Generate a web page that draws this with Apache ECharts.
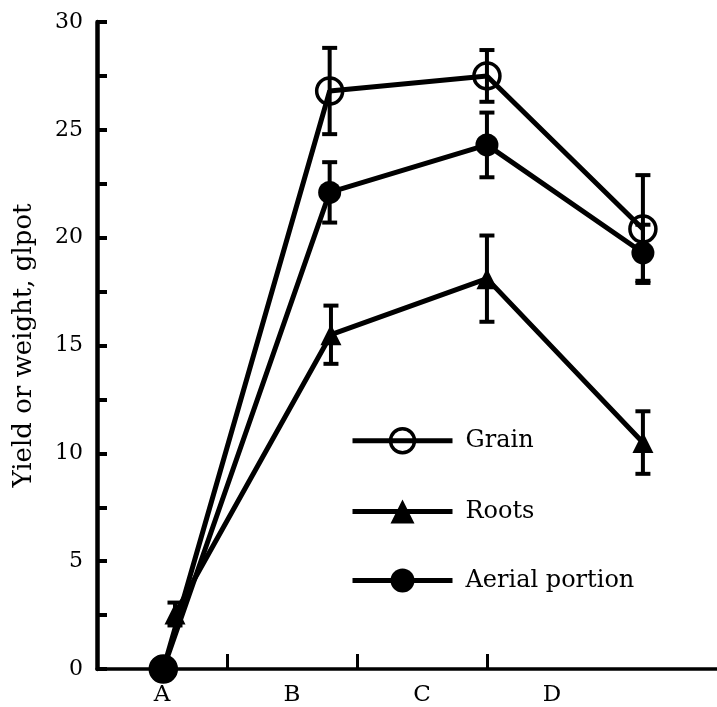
<!DOCTYPE html>
<html>
<head>
<meta charset="utf-8">
<script src="https://cdn.jsdelivr.net/npm/echarts@6/dist/echarts.min.js"></script>
<style>html,body{margin:0;padding:0;background:#fff;}#c{width:717px;height:707px;}</style>
</head>
<body>
<div id="c"></div>
<script>
// ---- data ----
const categories = ['A', 'B', 'C', 'D'];
const categoryLabelPos = [0.5, 1.5, 2.5, 3.5];
const xTickPos = [1, 2, 3];
const seriesNames = ['Grain', 'Roots', 'Aerial portion'];
const pointX = [0.51, 1.79, 3.0, 4.2];
const rootsX = [0.6, 1.8, 3.0, 4.2];
const grain = [0, 26.8, 27.5, 20.4];
const grainErr = [0, 2.0, 1.2, 2.5];
const roots = [2.55, 15.5, 18.1, 10.5];
const rootsErr = [0.53, 1.35, 2.0, 1.45];
const aerial = [0, 22.1, 24.3, 19.3];
const aerialErr = [0, 1.4, 1.5, 1.3];
const yTitle = 'Yield or weight, glpot';

const FONT = 'DejaVu Serif';
function pairs(xs, ys) { return xs.map((x, i) => [x, ys[i]]); }
function errData(xs, ys, es) {
  return xs.map((x, i) => [x, ys[i] - es[i], ys[i] + es[i]]).filter((d, i) => es[i] > 0);
}
function errRender(params, api) {
  const x = api.value(0), lo = api.value(1), hi = api.value(2);
  const t = api.coord([x, hi]), b = api.coord([x, lo]);
  const hw = 7.5;
  const st = { stroke: '#000', lineWidth: 4 };
  return { type: 'group', children: [
    { type: 'line', shape: { x1: t[0], y1: t[1], x2: b[0], y2: b[1] }, style: st },
    { type: 'line', shape: { x1: t[0] - hw, y1: t[1], x2: t[0] + hw, y2: t[1] }, style: st },
    { type: 'line', shape: { x1: b[0] - hw, y1: b[1], x2: b[0] + hw, y2: b[1] }, style: st }
  ] };
}
function errSeries(name, data) {
  return { type: 'custom', name: name, renderItem: errRender, data: data, encode: { x: 0, y: [1, 2] }, z: 1, silent: true };
}

const chart = echarts.init(document.getElementById('c'), null, { renderer: 'canvas' });
chart.setOption({
  backgroundColor: '#fff',
  animation: false,
  grid: { left: 97, right: 0, top: 22, bottom: 35, containLabel: false },
  legend: {
    orient: 'vertical', left: 350, top: 427, padding: 0,
    itemWidth: 100, itemHeight: 30, itemGap: 45,
    lineStyle: { width: 5, color: '#000' },
    data: [
      { name: seriesNames[0], itemStyle: { color: 'rgba(0,0,0,0)', borderColor: '#000', borderWidth: 3.5 } },
      { name: seriesNames[1] },
      { name: seriesNames[2] }
    ],
    textStyle: { fontFamily: FONT, fontSize: 24, color: '#000', padding: [0, 0, 0, 8] }
  },
  xAxis: {
    type: 'value', min: 0, max: 4.77,
    splitLine: { show: false },
    axisLine: { show: true, lineStyle: { color: '#000', width: 3.5 } },
    axisTick: { show: true, inside: true, length: 15, customValues: xTickPos, lineStyle: { color: '#000', width: 3 } },
    axisLabel: {
      customValues: categoryLabelPos, margin: 15,
      fontFamily: FONT, fontSize: 23, color: '#000',
      formatter: v => categories[Math.round(v - 0.5)]
    }
  },
  yAxis: {
    type: 'value', min: 0, max: 30, interval: 2.5,
    name: yTitle, nameLocation: 'middle', nameGap: 60,
    nameTextStyle: { fontFamily: FONT, fontSize: 26, color: '#000' },
    splitLine: { show: false },
    axisLine: { show: true, lineStyle: { color: '#000', width: 4.5 } },
    axisTick: { show: true, inside: true, length: 10, lineStyle: { color: '#000', width: 4 } },
    axisLabel: {
      margin: 14, fontFamily: FONT, fontSize: 22, color: '#000',
      formatter: v => (v % 5 === 0 ? String(v) : '')
    }
  },
  series: [
    errSeries('grainErr', errData(pointX, grain, grainErr)),
    errSeries('rootsErr', errData(rootsX, roots, rootsErr)),
    errSeries('aerialErr', errData(pointX, aerial, aerialErr)),
    {
      type: 'line', name: 'Grain', data: pairs(pointX, grain), clip: false, z: 3,
      symbol: 'circle', symbolSize: 26,
      lineStyle: { color: '#000', width: 5 },
      itemStyle: { color: 'rgba(0,0,0,0)', borderColor: '#000', borderWidth: 3.5 }
    },
    {
      type: 'line', name: 'Roots', data: pairs(rootsX, roots), clip: false, z: 3,
      symbol: 'triangle', symbolSize: 21,
      lineStyle: { color: '#000', width: 5 },
      itemStyle: { color: '#000' }
    },
    {
      type: 'line', name: 'Aerial portion', data: pairs(pointX, aerial), clip: false, z: 4,
      symbol: 'circle', symbolSize: (v, p) => (p.dataIndex === 0 ? 28 : 23),
      lineStyle: { color: '#000', width: 5 },
      itemStyle: { color: '#000' }
    }
  ]
});
</script>
</body>
</html>
